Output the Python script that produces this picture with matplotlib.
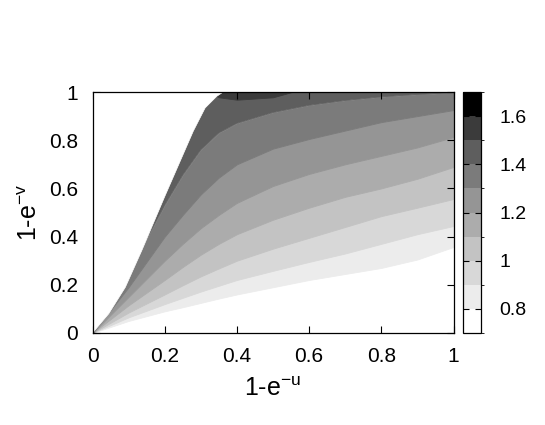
import numpy as np
import matplotlib
matplotlib.use("Agg")
import matplotlib.pyplot as plt
from matplotlib.colors import ListedColormap, BoundaryNorm
from matplotlib.colorbar import ColorbarBase

plt.rcParams['font.family'] = ['Liberation Sans', 'DejaVu Sans']
plt.rcParams['mathtext.default'] = 'regular'

# x positions (1-e^-u) where the contour boundaries were read
xs = [0, 0.1, 0.2, 0.25, 0.3, 0.35, 0.4, 0.5, 0.6, 0.7, 0.8, 0.9, 1.0]

# y (1-e^-v) of each level boundary at xs
lev_08 = [0, 0.05, 0.09, 0.107, 0.125, 0.143, 0.16, 0.19, 0.22, 0.245, 0.27, 0.305, 0.357]
lev_09 = [0, 0.065, 0.12, 0.146, 0.172, 0.196, 0.22, 0.258, 0.295, 0.33, 0.37, 0.41, 0.444]
lev_10 = [0, 0.085, 0.16, 0.198, 0.235, 0.268, 0.30, 0.35, 0.395, 0.44, 0.485, 0.52, 0.556]
lev_11 = [0, 0.115, 0.22, 0.274, 0.325, 0.37, 0.41, 0.47, 0.52, 0.565, 0.60, 0.64, 0.689]
lev_12 = [0, 0.15, 0.30, 0.37, 0.435, 0.49, 0.54, 0.61, 0.66, 0.70, 0.735, 0.77, 0.813]
lev_13 = [0, 0.19, 0.40, 0.49, 0.575, 0.645, 0.70, 0.765, 0.805, 0.84, 0.875, 0.90, 0.925]
lev_14 = [0, 0.25, 0.53, 0.655, 0.76, 0.83, 0.87, 0.915, 0.945, 0.965, 0.98, 0.99, 0.997]
lev_15 = [2, 2, 2, 2, 1.02, 0.978, 0.968, 0.978, 1.02, 1.1, 1.1, 1.1, 1.1]
levels = [lev_08, lev_09, lev_10, lev_11, lev_12, lev_13, lev_14, lev_15]

# left edge of the region where the function is defined
cut_x = [0, 0.045, 0.091, 0.137, 0.2, 0.242, 0.279, 0.312, 0.344, 0.362]
cut_y = [0, 0.08, 0.19, 0.344, 0.566, 0.71, 0.837, 0.934, 0.982, 1.0]

cb_bounds = [0.7, 0.8, 0.9, 1.0, 1.1, 1.2, 1.3, 1.4, 1.5, 1.6, 1.7]
cb_ticks = [0.8, 1.0, 1.2, 1.4, 1.6]
cb_labels = ['0.8', '1', '1.2', '1.4', '1.6']
axis_ticks = [0, 0.2, 0.4, 0.6, 0.8, 1]
axis_labels = ['0', '0.2', '0.4', '0.6', '0.8', '1']

# negative gray palette, gamma 1.5
grays = [(1 - i / 9) ** (2 / 3) for i in range(10)]
band_colors = [(g, g, g) for g in grays]

fig = plt.figure(figsize=(5.45, 4.25), dpi=100)
ax = fig.add_axes([92.5 / 545, 92 / 425, 361 / 545, 241 / 425])

x = np.array(xs)
for k in range(len(levels)):
    upper = levels[k + 1] if k + 1 < len(levels) else [1.0] * len(xs)
    c = band_colors[k + 1]
    ax.fill_between(x, levels[k], upper, facecolor=c, edgecolor=c, lw=0.6,
                    zorder=1 + k * 0.01)
ax.fill(np.r_[cut_x, 0], np.r_[cut_y, 1.0], facecolor='white',
        edgecolor='white', lw=0.5, zorder=2)

ax.set_xlim(0, 1)
ax.set_ylim(0, 1)
ax.set_xticks(axis_ticks)
ax.set_xticklabels(axis_labels)
ax.set_yticks(axis_ticks)
ax.set_yticklabels(axis_labels)
ax.tick_params(direction='in', length=5, width=0.8, top=True, right=True,
               labelsize=15)
ax.tick_params(axis='x', pad=10)
ax.tick_params(axis='y', pad=10.5)
for s in ax.spines.values():
    s.set_linewidth(0.9)
    s.set_zorder(5)
ax.set_xlabel('1-e$^{-u}$', fontsize=18, labelpad=8)
ax.set_ylabel('1-e$^{-v}$', fontsize=18, labelpad=5)

cax = fig.add_axes([462.7 / 545, 92 / 425, 18.3 / 545, 241 / 425])
cmap = ListedColormap(band_colors)
norm = BoundaryNorm(cb_bounds, cmap.N)
cb = ColorbarBase(cax, cmap=cmap, norm=norm, boundaries=cb_bounds,
                  ticks=cb_ticks, spacing='proportional')
cb.set_ticklabels(cb_labels)
cb.outline.set_linewidth(0.9)
cax.tick_params(direction='in', length=4, width=0.8, left=True, right=True,
                labelsize=14, pad=13)

fig.savefig('out.png', dpi=100)
